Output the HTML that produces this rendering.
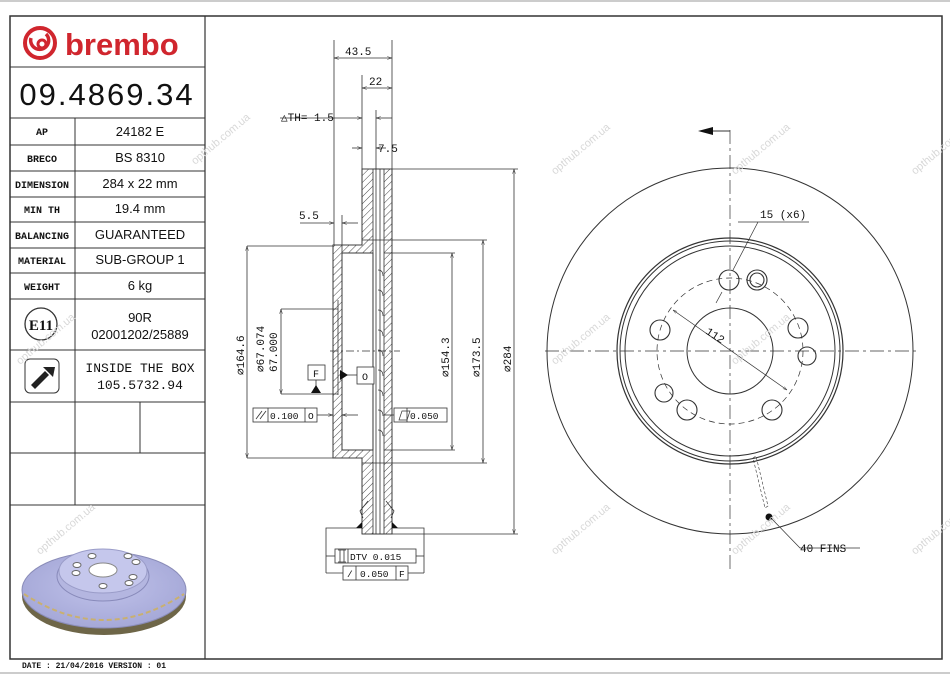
<!DOCTYPE html>
<html><head><meta charset="utf-8"><style>
html,body{margin:0;padding:0;background:#fff}
svg{display:block}
text{font-family:"Liberation Mono",monospace;fill:#111}
.s{font-family:"Liberation Sans",sans-serif}
</style></head><body>
<svg width="950" height="675" viewBox="0 0 950 675" xmlns="http://www.w3.org/2000/svg">
<defs>
<pattern id="h" width="5" height="5" patternUnits="userSpaceOnUse" patternTransform="rotate(45)">
<line x1="0" y1="0" x2="0" y2="5" stroke="#333" stroke-width="0.9"/></pattern>
<marker id="a" viewBox="0 0 10 10" refX="10" refY="5" markerWidth="6" markerHeight="6" orient="auto-start-reverse"><path d="M0,2 L10,5 L0,8" fill="none" stroke="#333"/></marker>
<radialGradient id="g" cx="50%" cy="45%" r="60%"><stop offset="0" stop-color="#c0c2ea"/><stop offset="1" stop-color="#a3a6d6"/></radialGradient>
</defs>
<line x1="0" y1="1" x2="950" y2="1" stroke="#999"/>
<line x1="0" y1="673" x2="950" y2="673" stroke="#999"/>
<rect x="10" y="16" width="932" height="643" fill="none" stroke="#333" stroke-width="1.5"/>
<line x1="205" y1="16" x2="205" y2="659" stroke="#333" stroke-width="1.2"/>
<g stroke="#333" stroke-width="1">
<line x1="10" y1="67" x2="205" y2="67"/><line x1="10" y1="118" x2="205" y2="118"/>
<line x1="10" y1="145" x2="205" y2="145"/><line x1="10" y1="171" x2="205" y2="171"/>
<line x1="10" y1="197" x2="205" y2="197"/><line x1="10" y1="222" x2="205" y2="222"/>
<line x1="10" y1="248" x2="205" y2="248"/><line x1="10" y1="273" x2="205" y2="273"/>
<line x1="10" y1="299" x2="205" y2="299"/><line x1="10" y1="350" x2="205" y2="350"/>
<line x1="10" y1="402" x2="205" y2="402"/><line x1="10" y1="453" x2="205" y2="453"/>
<line x1="10" y1="505" x2="205" y2="505"/>
<line x1="75" y1="118" x2="75" y2="505"/><line x1="140" y1="402" x2="140" y2="453"/>
</g>
<circle cx="40" cy="43" r="15" fill="none" stroke="#d0262e" stroke-width="4"/>
<path d="M31,38 a9,9 0 1,0 15,-4" fill="none" stroke="#d0262e" stroke-width="3.5"/>
<circle cx="42" cy="44" r="4" fill="none" stroke="#d0262e" stroke-width="3"/>
<text x="65" y="55" class="s" font-size="31" font-weight="bold" style="fill:#d0262e">brembo</text>
<text x="107" y="105" font-size="31" text-anchor="middle" class="s" style="letter-spacing:2px">09.4869.34</text>
<g font-size="10" font-weight="bold" text-anchor="middle">
<text x="42" y="135">AP</text><text x="42" y="162">BRECO</text><text x="42" y="188">DIMENSION</text>
<text x="42" y="213">MIN TH</text><text x="42" y="239">BALANCING</text><text x="42" y="264">MATERIAL</text>
<text x="42" y="290">WEIGHT</text></g>
<g font-size="13" text-anchor="middle">
<text x="140" y="136" class="s">24182 E</text><text x="140" y="162" class="s">BS 8310</text>
<text x="140" y="188" class="s">284 x 22 mm</text><text x="140" y="213" class="s">19.4 mm</text>
<text x="140" y="239" class="s">GUARANTEED</text><text x="140" y="264" class="s">SUB-GROUP 1</text>
<text x="140" y="290" class="s">6 kg</text>
<text x="140" y="322" class="s">90R</text><text x="140" y="339" class="s">02001202/25889</text>
<text x="140" y="372">INSIDE THE BOX</text><text x="140" y="389">105.5732.94</text></g>
<circle cx="41" cy="324" r="16" fill="none" stroke="#333" stroke-width="1.3"/>
<text x="41" y="330" font-size="15" font-weight="bold" text-anchor="middle" style="font-family:'Liberation Serif',serif">E11</text>
<rect x="25" y="359" width="34" height="34" rx="5" fill="none" stroke="#333"/>
<path d="M31,385 L45,371 L49,375 L35,389 Z" fill="#222"/>
<path d="M43,367 L53,377 L55,367 Z" fill="#222"/>
<ellipse cx="104" cy="596" rx="82" ry="39" fill="#6e6648"/>
<ellipse cx="104" cy="590" rx="82" ry="38" fill="url(#g)" stroke="#8a8cb8"/>
<path d="M24,594 q80,52 160,0" fill="none" stroke="#c9b070" stroke-width="2" stroke-dasharray="5,3"/>
<ellipse cx="103" cy="576" rx="46" ry="25" fill="#b4b6e0" stroke="#888aba"/>
<ellipse cx="103" cy="571" rx="44" ry="22" fill="#c5c7ec" stroke="#9a9cc8"/>
<ellipse cx="103" cy="570" rx="14" ry="7" fill="#fff" stroke="#888"/>
<g fill="#fff" stroke="#666"><ellipse cx="77" cy="565" rx="4" ry="2.5"/><ellipse cx="76" cy="573" rx="4" ry="2.5"/><ellipse cx="92" cy="556" rx="4" ry="2.5"/><ellipse cx="128" cy="556" rx="4" ry="2.5"/><ellipse cx="136" cy="562" rx="4" ry="2.5"/><ellipse cx="133" cy="577" rx="4" ry="2.5"/><ellipse cx="103" cy="586" rx="4" ry="2.5"/><ellipse cx="129" cy="583" rx="4" ry="2.5"/></g>
<text x="22" y="668" font-size="8" font-weight="bold">DATE : 21/04/2016 VERSION : 01</text>

<g stroke="#333" stroke-width="0.8" fill="none">
<path d="M362,169 H392 V534 H362 V458 H333 V245 H362 Z" fill="url(#h)"/>
<rect x="342" y="253" width="31" height="197" fill="#fff"/>
<rect x="373" y="169" width="11" height="365" fill="#fff"/>
<line x1="376" y1="169" x2="376" y2="534"/><line x1="380" y1="169" x2="380" y2="534"/>
<path d="M362,240 H392 M362,463 H392"/>
<path d="M333,245 H362 V169 H392 V534 H362 V458 H333 Z"/>
<rect x="342" y="253" width="31" height="197"/>
<g stroke-width="0.7">
<path d="M378,270 q5,0 5,6 M378,290 q5,0 5,6 M378,310 q5,0 5,6 M378,330 q5,0 5,6 M378,350 q5,0 5,6 M378,370 q5,0 5,6 M378,390 q5,0 5,6 M378,410 q5,0 5,6 M378,430 q5,0 5,6"/>
</g>
<line x1="338" y1="300" x2="338" y2="395"/>
<line x1="334" y1="40" x2="334" y2="245"/><line x1="392" y1="40" x2="392" y2="169"/>
<line x1="362" y1="75" x2="362" y2="169"/><line x1="376" y1="110" x2="376" y2="169"/>
<line x1="342" y1="215" x2="342" y2="253"/>
<line x1="334" y1="58" x2="392" y2="58" marker-start="url(#a)" marker-end="url(#a)"/>
<line x1="362" y1="88" x2="392" y2="88" marker-start="url(#a)" marker-end="url(#a)"/>
<line x1="280" y1="118" x2="362" y2="118" marker-end="url(#a)"/><line x1="392" y1="118" x2="376" y2="118" marker-end="url(#a)"/>
<line x1="352" y1="148" x2="362" y2="148" marker-end="url(#a)"/><line x1="386" y1="148" x2="376" y2="148" marker-end="url(#a)"/>
<line x1="300" y1="223" x2="334" y2="223" marker-end="url(#a)"/><line x1="358" y1="223" x2="342" y2="223" marker-end="url(#a)"/>
<line x1="247" y1="246" x2="333" y2="246"/><line x1="247" y1="458" x2="333" y2="458"/>
<line x1="247" y1="246" x2="247" y2="458" marker-start="url(#a)" marker-end="url(#a)"/>
<line x1="281" y1="309" x2="338" y2="309"/><line x1="281" y1="394" x2="338" y2="394"/>
<line x1="281" y1="309" x2="281" y2="394" marker-start="url(#a)" marker-end="url(#a)"/>
<line x1="384" y1="253" x2="455" y2="253"/><line x1="384" y1="450" x2="455" y2="450"/>
<line x1="452" y1="253" x2="452" y2="450" marker-start="url(#a)" marker-end="url(#a)"/>
<line x1="392" y1="240" x2="487" y2="240"/><line x1="392" y1="463" x2="487" y2="463"/>
<line x1="483" y1="240" x2="483" y2="463" marker-start="url(#a)" marker-end="url(#a)"/>
<line x1="392" y1="169" x2="518" y2="169"/><line x1="392" y1="534" x2="518" y2="534"/>
<line x1="514" y1="169" x2="514" y2="534" marker-start="url(#a)" marker-end="url(#a)"/>
<line x1="330" y1="351" x2="400" y2="351" stroke-dasharray="8,3,2,3"/>
<rect x="308" y="365" width="17" height="15" fill="#fff"/>
<line x1="316" y1="380" x2="316" y2="393"/>
<rect x="357" y="367" width="17" height="17" fill="#fff"/>
<line x1="346" y1="375" x2="357" y2="375"/>
<rect x="253" y="408" width="64" height="14" fill="#fff"/><line x1="268" y1="408" x2="268" y2="422"/><line x1="305" y1="408" x2="305" y2="422"/>
<line x1="317" y1="415" x2="333" y2="415" marker-end="url(#a)"/><line x1="358" y1="415" x2="342" y2="415" marker-end="url(#a)"/>
<rect x="394" y="408" width="53" height="14" fill="#fff"/><line x1="407" y1="408" x2="407" y2="422"/>
<line x1="394" y1="415" x2="384" y2="415"/>
<path d="M326,573 V528 H362 M392,528 H424 V573"/>
<rect x="335" y="549" width="81" height="14" fill="#fff"/><line x1="348" y1="549" x2="348" y2="563"/>
<line x1="326" y1="556" x2="335" y2="556"/><line x1="416" y1="556" x2="424" y2="556"/>
<rect x="343" y="566" width="65" height="14" fill="#fff"/><line x1="356" y1="566" x2="356" y2="580"/><line x1="396" y1="566" x2="396" y2="580"/>
<line x1="326" y1="573" x2="343" y2="573"/><line x1="408" y1="573" x2="424" y2="573"/>
<path d="M256,419 l6,-8 M260,419 l6,-8"/>
<path d="M399,420 l3,-9 h8 l-3,9 z" stroke-width="0.7"/>
<path d="M340,550 v12 M344,550 v12 M338,550 h8 M338,562 h8"/>
<path d="M363,518 l-3,-7 l8,-10 M391,518 l3,-7 l-8,-10"/>
</g>
<g fill="#111">
<path d="M311,393 l5,-8 l5,8 z"/><path d="M340,370 l8,5 l-8,5 z"/>
<path d="M356,528 l6,-6 v6 z"/><path d="M398,528 l-6,-6 v6 z"/>
</g>
<g font-size="11">
<text x="345" y="55">43.5</text><text x="369" y="85">22</text>
<text x="281" y="121">△TH= 1.5</text><text x="378" y="152">7.5</text>
<text x="299" y="219">5.5</text>
<text x="313" y="377" font-size="10">F</text><text x="362" y="380" font-size="10">O</text>
<text x="270" y="419" font-size="9.5">0.100</text><text x="308" y="419" font-size="9.5">O</text>
<text x="410" y="419" font-size="9.5">0.050</text>
<text x="350" y="560" font-size="9.5">DTV 0.015</text>
<text x="347" y="577" font-size="9.5">/</text><text x="360" y="577" font-size="9.5">0.050</text><text x="399" y="577" font-size="9.5">F</text>
<text transform="translate(244,375) rotate(-90)">∅164.6</text>
<text transform="translate(264,372) rotate(-90)">∅67.074</text>
<text transform="translate(277,372) rotate(-90)">67.000</text>
<text transform="translate(449,377) rotate(-90)">∅154.3</text>
<text transform="translate(480,377) rotate(-90)">∅173.5</text>
<text transform="translate(511,372) rotate(-90)">∅284</text>
</g>

<g stroke="#333" fill="none" stroke-width="1">
<circle cx="730" cy="351" r="183"/>
<circle cx="730" cy="351" r="113" stroke-width="1.2"/>
<circle cx="730" cy="351" r="110"/>
<circle cx="730" cy="351" r="105"/>
<circle cx="730" cy="351" r="43"/>
<circle cx="730" cy="351" r="73" stroke-dasharray="6,4" stroke-width="0.7"/>
<line x1="545" y1="351" x2="918" y2="351" stroke-dasharray="14,4,3,4" stroke-width="0.7"/>
<line x1="730" y1="130" x2="730" y2="570" stroke-dasharray="14,4,3,4" stroke-width="0.7"/>
<line x1="713" y1="131" x2="730" y2="131"/>
<g stroke-width="1.1">
<circle cx="729" cy="280" r="10"/><circle cx="757" cy="280" r="10"/><circle cx="757" cy="280" r="7"/>
<circle cx="660" cy="330" r="10"/><circle cx="798" cy="328" r="10"/><circle cx="807" cy="356" r="9"/>
<circle cx="664" cy="393" r="9"/><circle cx="687" cy="410" r="10"/><circle cx="772" cy="410" r="10"/>
</g>
<line x1="673" y1="310" x2="787" y2="390" stroke-width="0.7" marker-start="url(#a)" marker-end="url(#a)"/>
<path d="M738,222 L809,222 M758,222 L733,270 M716,303 L722,292" stroke-width="0.7"/>
<path d="M753,458 l3,-2 l12,50 l-3,2 z" stroke-width="0.6" stroke-dasharray="3,2"/>
<path d="M770,517 L800,548 L860,548" stroke-width="0.7"/>
</g>
<path d="M698,131 l15,-4 v8 z" fill="#111"/>
<circle cx="769" cy="517" r="3.5" fill="#111"/>
<g font-size="11">
<text x="760" y="218">15 (x6)</text>
<text x="800" y="552">40 FINS</text>
<text transform="translate(705,333) rotate(33)">112</text>
</g>
<g font-size="11">
<text transform="translate(195,165) rotate(-40)" class="s" style="fill:#d8d8d8">opthub.com.ua</text>
<text transform="translate(555,175) rotate(-40)" class="s" style="fill:#d8d8d8">opthub.com.ua</text>
<text transform="translate(735,175) rotate(-40)" class="s" style="fill:#d8d8d8">opthub.com.ua</text>
<text transform="translate(915,175) rotate(-40)" class="s" style="fill:#d8d8d8">opthub.com.ua</text>
<text transform="translate(20,365) rotate(-40)" class="s" style="fill:#d8d8d8">opthub.com.ua</text>
<text transform="translate(555,365) rotate(-40)" class="s" style="fill:#d8d8d8">opthub.com.ua</text>
<text transform="translate(735,365) rotate(-40)" class="s" style="fill:#d8d8d8">opthub.com.ua</text>
<text transform="translate(40,555) rotate(-40)" class="s" style="fill:#d8d8d8">opthub.com.ua</text>
<text transform="translate(555,555) rotate(-40)" class="s" style="fill:#d8d8d8">opthub.com.ua</text>
<text transform="translate(735,555) rotate(-40)" class="s" style="fill:#d8d8d8">opthub.com.ua</text>
<text transform="translate(915,555) rotate(-40)" class="s" style="fill:#d8d8d8">opthub.com.ua</text>
</g>
</svg>
</body></html>
